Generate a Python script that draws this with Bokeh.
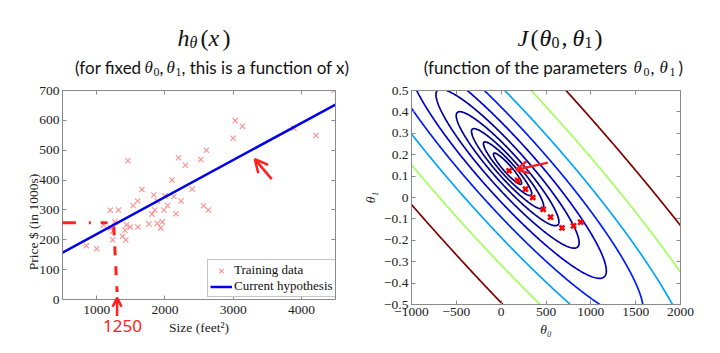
import numpy as np
from bokeh.plotting import figure
from bokeh.layouts import row, column
from bokeh.models import (Label, Arrow, OpenHead, LinearAxis, FixedTicker, Range1d,
                          Legend, LegendItem)
from bokeh.embed import file_html
from bokeh.resources import INLINE

# ---------------- data ----------------
house_size = [2104, 1600, 2400, 1416, 3000, 1985, 1534, 1427, 1380, 1494,
              1940, 2000, 1890, 4478, 1268, 2300, 1320, 1236, 2609, 3031,
              1767, 1888, 1604, 1962, 3890, 1100, 1458, 2526, 2200, 2637,
              1839, 1000, 2040, 3137, 1811, 1437, 1239, 2132, 4215, 2162,
              1664, 2238, 2567, 1200, 852, 1852, 1203]
house_price = [399.9, 329.9, 369.0, 232.0, 539.9, 299.9, 314.9, 199.0, 212.0, 242.5,
               240.0, 347.0, 330.0, 699.9, 259.9, 449.9, 299.9, 199.9, 500.0, 599.0,
               252.9, 255.0, 242.9, 259.9, 573.9, 249.9, 464.5, 469.0, 475.0, 299.9,
               349.9, 169.9, 314.9, 579.9, 285.9, 249.9, 229.9, 345.0, 549.0, 287.0,
               368.5, 329.9, 314.0, 299.0, 179.9, 299.9, 239.5]

hyp_theta0 = 95.0
hyp_theta1 = 0.124
hyp_x = [500, 4500]

gd_theta0 = [88, 183, 271, 352, 469, 551, 678, 807, 887]
gd_theta1 = [0.125, 0.080, 0.039, 0.0, -0.055, -0.092, -0.142, -0.133, -0.115]

contour_levels = [2.0e3, 3.72e3, 6.92e3, 1.29e4, 2.40e4, 4.47e4, 8.32e4,
                  1.549e5, 2.884e5, 5.37e5, 1.0e6]
contour_colors = ["#000080", "#000081", "#000085", "#00008b", "#000096", "#0000ab",
                  "#0000d2", "#001cff", "#00a5ff", "#a3ff5c", "#800000"]

left_xticks = [1000, 2000, 3000, 4000]
left_yticks = [0, 100, 200, 300, 400, 500, 600, 700]
right_xticks = [-1000, -500, 0, 500, 1000, 1500, 2000]
right_yticks = [-0.5, -0.4, -0.3, -0.2, -0.1, 0, 0.1, 0.2, 0.3, 0.4, 0.5]

# hand-drawn annotations (data units)
ann_left_arrow = [3566, 403, 3318, 470]
ann_vdash = [1250, 245, 1300, 25]
ann_varrow = [1300, -55, 1300, 6]
ann_hdash = [446, 257, 1160, 257]
ann_text_1250 = [1379, -90]
ann_right_arrow = [521, 0.163, 168, 0.130]

RED = "#ff2020"
SERIF = "Liberation Serif"
SANS = "Lato"
AXC = "#8a8a8a"
TXT = "#222222"

# ---------------- title strip ----------------
STRIP_H = 80
strip = figure(width=720, height=STRIP_H, x_range=Range1d(0, 720), y_range=Range1d(STRIP_H, 0),
               output_backend="svg", toolbar_location=None, x_axis_location=None,
               y_axis_location=None, min_border=0)
strip.title.visible = False
strip.outline_line_color = None
strip.xgrid.visible = False
strip.ygrid.visible = False

# (text, x, baseline y, font, size, style, align)
title_pieces = [
    ("h", 177, 37, SERIF, "24px", "italic", "left"),
    ("\u03b8", 189, 42, SERIF, "16px", "italic", "left"),
    ("(", 200, 37, SERIF, "24px", "normal", "left"),
    ("x", 208, 37, SERIF, "24px", "italic", "left"),
    (")", 222, 37, SERIF, "24px", "normal", "left"),
    ("(for fixed", 141, 67, SANS, "17px", "normal", "right"),
    ("\u03b8", 144, 67, SERIF, "17px", "italic", "left"),
    ("0", 153, 71, SERIF, "12px", "normal", "left"),
    (",", 159, 67, SANS, "17px", "normal", "left"),
    ("\u03b8", 166, 67, SERIF, "17px", "italic", "left"),
    ("1", 175, 71, SERIF, "12px", "normal", "left"),
    (", this is a function of x)", 181, 67, SANS, "17px", "normal", "left"),
    ("J", 517, 37, SERIF, "24px", "italic", "left"),
    ("(", 530, 37, SERIF, "24px", "normal", "left"),
    ("\u03b8", 539, 37, SERIF, "24px", "italic", "left"),
    ("0", 551, 42, SERIF, "16px", "normal", "left"),
    (",", 561, 37, SERIF, "24px", "normal", "left"),
    ("\u03b8", 572, 37, SERIF, "24px", "italic", "left"),
    ("1", 584, 42, SERIF, "16px", "normal", "left"),
    (")", 594, 37, SERIF, "24px", "normal", "left"),
    ("(function of the parameters", 627, 67, SANS, "17px", "normal", "right"),
    ("\u03b8", 633, 67, SERIF, "17px", "italic", "left"),
    ("0", 643, 71, SERIF, "12px", "normal", "left"),
    (",", 650, 67, SANS, "17px", "normal", "left"),
    ("\u03b8", 659, 67, SERIF, "17px", "italic", "left"),
    ("1", 669, 71, SERIF, "12px", "normal", "left"),
    (")", 678, 67, SANS, "17px", "normal", "left"),
]
for t, cx, cy, font, size, style, align in title_pieces:
    strip.add_layout(Label(x=cx, y=cy, text=t, text_font=font, text_font_size=size,
                           text_font_style=style, text_color="#111111",
                           text_align=align, text_baseline="alphabetic"))


def make_axis(ticks, show_labels=True, label=None, **kw):
    ax = LinearAxis(ticker=FixedTicker(ticks=ticks), axis_line_color=AXC,
                    major_tick_line_color=AXC, major_tick_in=4, major_tick_out=0,
                    minor_tick_line_color=None, major_label_standoff=3,
                    major_label_text_font=SERIF, major_label_text_font_size="13.5px",
                    major_label_text_color=TXT, axis_label_text_font=SERIF,
                    axis_label_text_font_style="normal", axis_label_text_font_size="13.5px",
                    axis_label_text_color=TXT, axis_label_standoff=3)
    for k, v in kw.items():
        setattr(ax, k, v)
    if label is not None:
        ax.axis_label = label
    if not show_labels:
        ax.major_label_text_color = None
        ax.major_label_text_font_size = "1px"
        ax.major_label_standoff = 0
    return ax


# shared bottom border (plots in a row get their frames aligned)
BORDER_BOTTOM = 62
BORDER_TOP = 10

# ---------------- left plot ----------------
# frame spans canvas y 90..353 so the hand-drawn marks under the axis stay visible;
# price 0 sits at canvas y 299 and 700 at canvas y 90
L_TOP, L_ZERO, L_BOT = 90, 299, 353
y_low = -(L_BOT - L_ZERO) * 700.0 / (L_ZERO - L_TOP)
p1 = figure(width=360, height=(L_BOT - STRIP_H) + BORDER_BOTTOM, x_range=Range1d(500, 4500),
            y_range=Range1d(y_low, 700), output_backend="svg", toolbar_location=None,
            x_axis_location=None, y_axis_location=None,
            min_border_left=62, min_border_right=25, min_border_top=BORDER_TOP,
            min_border_bottom=BORDER_BOTTOM)
p1.title.visible = False
p1.outline_line_color = None
p1.xgrid.visible = False
p1.ygrid.visible = False
p1.add_layout(make_axis(left_xticks, label="Size (feet\u00b2)", fixed_location=0,
                        major_label_standoff=6), "below")
p1.add_layout(make_axis(left_yticks, label="Price $ (in 1000s)", bounds=(0, 700),
                        axis_label_standoff=-5), "left")
p1.add_layout(make_axis(left_xticks, show_labels=False), "above")
p1.add_layout(make_axis(left_yticks, show_labels=False, bounds=(0, 700)), "right")

r_sc = p1.scatter(house_size, house_price, marker="x", size=7.5, line_color="#ff8f8f",
                  line_width=1.1)
hyp_y = [hyp_theta0 + hyp_theta1 * v for v in hyp_x]
r_ln = p1.line(hyp_x, hyp_y, line_color="#0000f0", line_width=2.5)

legend = Legend(items=[LegendItem(label="Training data", renderers=[r_sc]),
                       LegendItem(label="Current hypothesis", renderers=[r_ln])],
                location=(207 - 62, L_BOT - 297), label_text_font=SERIF,
                label_text_font_size="13px", label_text_color="#111111",
                border_line_color=AXC, padding=2, spacing=0, margin=0, glyph_width=22,
                glyph_height=15, label_height=15, label_standoff=2, background_fill_alpha=1)
p1.add_layout(legend)

x0, y0, x1, y1 = ann_left_arrow
p1.add_layout(Arrow(x_start=x0, y_start=y0, x_end=x1, y_end=y1, line_color=RED,
                    line_width=2.5, end=OpenHead(size=13, line_color=RED, line_width=2.5)))
x0, y0, x1, y1 = ann_vdash
p1.add_layout(Arrow(x_start=x0, y_start=y0, x_end=x1, y_end=y1, line_color=RED,
                    line_width=3, line_dash="9 11", end=None))
x0, y0, x1, y1 = ann_varrow
p1.add_layout(Arrow(x_start=x0, y_start=y0, x_end=x1, y_end=y1, line_color=RED,
                    line_width=2.5, end=OpenHead(size=9, line_color=RED, line_width=2.5)))
x0, y0, x1, y1 = ann_hdash
p1.add_layout(Arrow(x_start=x0, y_start=y0, x_end=x1, y_end=y1, line_color=RED,
                    line_width=3, line_dash="17 13 2 10", end=None))
p1.add_layout(Label(x=ann_text_1250[0], y=ann_text_1250[1], text="1250", text_color=RED,
                    text_font="Noto Sans", text_font_size="17px", text_align="center",
                    text_baseline="middle"))

# ---------------- right plot ----------------
t0 = np.linspace(-1000, 2000, 301)
t1 = np.linspace(-0.5, 0.5, 201)
xs = np.array(house_size, dtype=float)
ys = np.array(house_price, dtype=float)
T0, T1 = np.meshgrid(t0, t1)
J = ((T0[..., None] + T1[..., None] * xs - ys) ** 2).mean(axis=-1) / 2.0

R_BOT = 304
p2 = figure(width=360, height=(R_BOT - STRIP_H) + BORDER_BOTTOM, x_range=Range1d(-1000, 2000),
            y_range=Range1d(-0.5, 0.5), output_backend="svg", toolbar_location=None,
            x_axis_location=None, y_axis_location=None,
            min_border_left=47, min_border_right=40, min_border_top=BORDER_TOP,
            min_border_bottom=BORDER_BOTTOM)
p2.title.visible = False
p2.outline_line_color = AXC
p2.xgrid.visible = False
p2.ygrid.visible = False
ax_b = make_axis(right_xticks, label="\u03b8\u2080", axis_label_text_font_style="italic")
ax_l = make_axis(right_yticks, label="\u03b8\u2081", axis_label_text_font_style="italic")
ax_l.major_label_overrides = {0: "0"}
p2.add_layout(ax_b, "below")
p2.add_layout(ax_l, "left")
p2.add_layout(make_axis(right_xticks, show_labels=False), "above")
p2.add_layout(make_axis(right_yticks, show_labels=False), "right")

p2.contour(t0, t1, J, levels=contour_levels, line_color=contour_colors, line_width=1.7,
           fill_color=None)
p2.scatter(gd_theta0, gd_theta1, marker="x", size=7, line_color="#ff0000", line_width=2.5)

x0, y0, x1, y1 = ann_right_arrow
p2.add_layout(Arrow(x_start=x0, y_start=y0, x_end=x1, y_end=y1, line_color=RED,
                    line_width=2.5, end=OpenHead(size=12, line_color=RED, line_width=2.5)))

layout = column(strip, row(p1, p2))
open("out.html", "w").write(file_html(layout, INLINE))
